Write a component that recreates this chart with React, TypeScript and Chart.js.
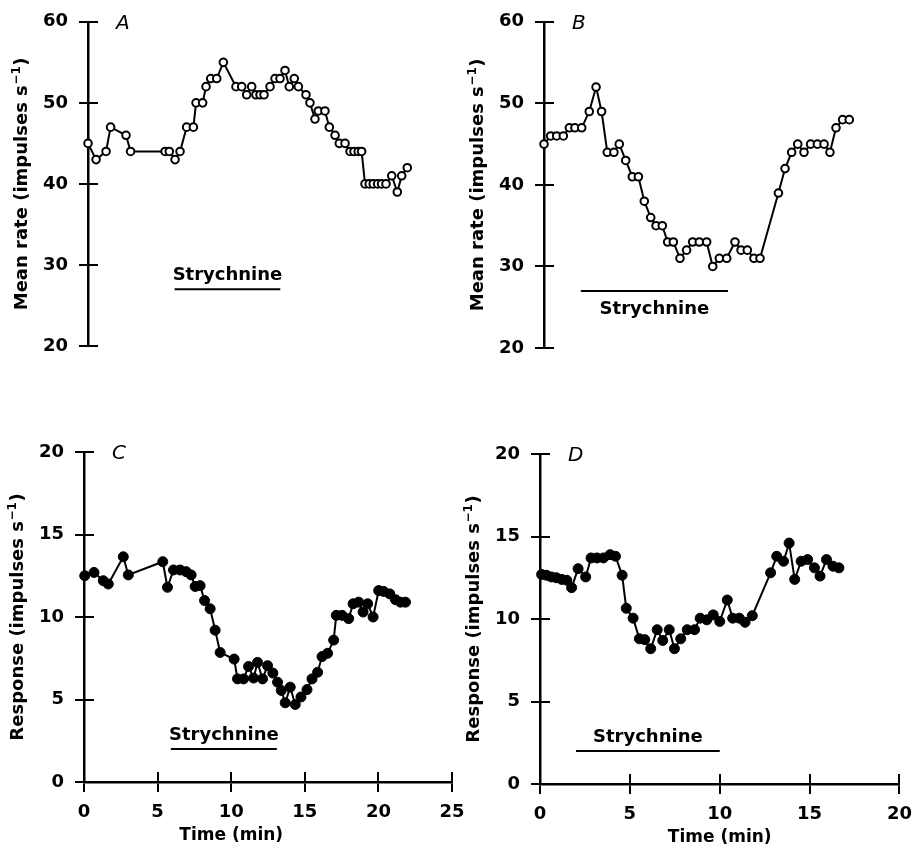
import React, { useEffect, useRef } from "react";
import { Chart, registerables } from "chart.js";

Chart.register(...registerables);
Chart.defaults.font.family = "'DejaVu Sans', sans-serif";

// ---------------- Data ----------------
// Panel A: mean rate (impulses/s) vs time (min)
const timeA = [0, 0.55, 1.23, 1.54, 2.59, 2.9, 5.25, 5.54, 5.93, 6.27, 6.72, 7.18, 7.36, 7.81, 8.04, 8.36, 8.77, 9.22, 10.08, 10.47, 10.81, 11.15, 11.44, 11.72, 11.99, 12.4, 12.74, 13.08, 13.42, 13.71, 14.05, 14.33, 14.85, 15.12, 15.46, 15.69, 16.14, 16.44, 16.83, 17.12, 17.51, 17.85, 18.12, 18.41, 18.64, 18.87, 19.16, 19.43, 19.73, 20.0, 20.3, 20.69, 21.07, 21.37, 21.75];
const rateA = [45, 43, 44, 47, 46, 44, 44, 44, 43, 44, 47, 47, 50, 50, 52, 53, 53, 55, 52, 52, 51, 52, 51, 51, 51, 52, 53, 53, 54, 52, 53, 52, 51, 50, 48, 49, 49, 47, 46, 45, 45, 44, 44, 44, 44, 40, 40, 40, 40, 40, 40, 41, 39, 41, 42];

// Panel B
const timeB = [0, 0.36, 0.69, 1.05, 1.38, 1.68, 2.05, 2.46, 2.83, 3.13, 3.44, 3.8, 4.09, 4.44, 4.8, 5.13, 5.45, 5.8, 6.09, 6.43, 6.72, 7.03, 7.39, 7.75, 8.08, 8.44, 8.84, 9.17, 9.53, 9.93, 10.38, 10.71, 11.05, 11.41, 11.74, 12.74, 13.1, 13.46, 13.79, 14.13, 14.49, 14.86, 15.22, 15.54, 15.87, 16.23, 16.59];
const rateB = [45, 46, 46, 46, 47, 47, 47, 49, 52, 49, 44, 44, 45, 43, 41, 41, 38, 36, 35, 35, 33, 33, 31, 32, 33, 33, 33, 30, 31, 31, 33, 32, 32, 31, 31, 39, 42, 44, 45, 44, 45, 45, 45, 44, 47, 48, 48];

// Panel C: response (impulses/s)
const timeC = [0.05, 0.68, 1.31, 1.65, 2.67, 3.01, 5.35, 5.67, 6.08, 6.53, 6.94, 7.28, 7.55, 7.89, 8.19, 8.57, 8.91, 9.25, 10.2, 10.43, 10.84, 11.18, 11.52, 11.79, 12.13, 12.47, 12.83, 13.15, 13.4, 13.67, 14.01, 14.35, 14.74, 15.15, 15.49, 15.87, 16.17, 16.55, 16.96, 17.14, 17.53, 17.98, 18.28, 18.66, 18.96, 19.27, 19.64, 20.02, 20.36, 20.77, 21.16, 21.5, 21.84];
const respC = [12.5, 12.7, 12.2, 12.0, 13.65, 12.55, 13.35, 11.8, 12.85, 12.85, 12.75, 12.55, 11.85, 11.9, 11.0, 10.5, 9.2, 7.85, 7.45, 6.25, 6.25, 7.0, 6.3, 7.25, 6.25, 7.05, 6.6, 6.05, 5.55, 4.8, 5.75, 4.7, 5.15, 5.6, 6.25, 6.65, 7.6, 7.8, 8.6, 10.1, 10.1, 9.9, 10.8, 10.9, 10.3, 10.8, 10.0, 11.6, 11.55, 11.4, 11.05, 10.9, 10.9];

// Panel D
const timeD = [0.09, 0.36, 0.63, 0.91, 1.21, 1.49, 1.76, 2.12, 2.54, 2.84, 3.17, 3.53, 3.9, 4.2, 4.57, 4.8, 5.18, 5.53, 5.83, 6.16, 6.52, 6.83, 7.19, 7.48, 7.83, 8.19, 8.6, 8.91, 9.28, 9.64, 10.0, 10.42, 10.72, 11.09, 11.41, 11.81, 12.83, 13.17, 13.55, 13.86, 14.17, 14.53, 14.89, 15.27, 15.58, 15.94, 16.3, 16.63];
const respD = [12.7, 12.65, 12.55, 12.5, 12.4, 12.35, 11.9, 13.05, 12.55, 13.7, 13.7, 13.7, 13.9, 13.8, 12.65, 10.65, 10.05, 8.8, 8.75, 8.2, 9.35, 8.7, 9.35, 8.2, 8.8, 9.35, 9.35, 10.05, 9.95, 10.25, 9.85, 11.15, 10.05, 10.05, 9.8, 10.2, 12.8, 13.8, 13.5, 14.6, 12.4, 13.5, 13.6, 13.1, 12.6, 13.6, 13.2, 13.1];

// Strychnine application periods [start, end] (min) and bar level
const strychA = [5.9, 13.1];
const strychB = [2.0, 10.0];
const strychC = [5.9, 13.1];
const strychD = [2.0, 10.0];
const strychLevelTop = 27;
const strychLevelBottom = 2;

const panelLetters = ["A", "B", "C", "D"];
const yTitleTop = "Mean rate (impulses s";
const yTitleBottom = "Response (impulses s";
const xTitle = "Time (min)";
const strychLabel = "Strychnine";

// ---------------- Layout (pixels) ----------------
type Layout = { left: number; right: number; top: number; bottom: number };
const layouts: Layout[] = [
  { left: 88, right: 455, top: 15, bottom: 346 },
  { left: 544, right: 912, top: 18, bottom: 348 },
  { left: 84, right: 452, top: 452, bottom: 782 },
  { left: 540, right: 908, top: 454, bottom: 784 },
];

const W = 922;
const H = 851;
const Y_SCALE_W = 80;
const X_SCALE_H = 60;

type Panel = {
  letter: string;
  xs: number[];
  ys: number[];
  open: boolean;
  xMax: number;
  yMin: number;
  yMax: number;
  yStep: number;
  showX: boolean;
  yTitle: string;
  strych: number[];
  strychLevel: number;
  labelBelow: boolean;
};

const panels: Panel[] = [
  { letter: panelLetters[0], xs: timeA, ys: rateA, open: true, xMax: 25, yMin: 20, yMax: 60, yStep: 10, showX: false, yTitle: yTitleTop, strych: strychA, strychLevel: strychLevelTop, labelBelow: false },
  { letter: panelLetters[1], xs: timeB, ys: rateB, open: true, xMax: 20, yMin: 20, yMax: 60, yStep: 10, showX: false, yTitle: yTitleTop, strych: strychB, strychLevel: strychLevelTop, labelBelow: true },
  { letter: panelLetters[2], xs: timeC, ys: respC, open: false, xMax: 25, yMin: 0, yMax: 20, yStep: 5, showX: true, yTitle: yTitleBottom, strych: strychC, strychLevel: strychLevelBottom, labelBelow: false },
  { letter: panelLetters[3], xs: timeD, ys: respD, open: false, xMax: 20, yMin: 0, yMax: 20, yStep: 5, showX: true, yTitle: yTitleBottom, strych: strychD, strychLevel: strychLevelBottom, labelBelow: false },
];

const FONT = "'DejaVu Sans', sans-serif";

const overlayPlugin = {
  id: "overlay",
  afterDraw(chart: any, _args: any, opts: any) {
    const p: Panel = opts.panel;
    const ctx: CanvasRenderingContext2D = chart.ctx;
    const { left, bottom } = chart.chartArea;
    const xs = chart.scales.x;
    const ys = chart.scales.y;
    ctx.save();
    ctx.strokeStyle = "#000";
    ctx.fillStyle = "#000";
    ctx.lineWidth = 2;
    // inner halves of tick marks
    ctx.beginPath();
    ys.ticks.forEach((t: any) => {
      const py = Math.round(ys.getPixelForValue(t.value));
      ctx.moveTo(left, py);
      ctx.lineTo(left + 10, py);
    });
    if (p.showX) {
      xs.ticks.forEach((t: any) => {
        const px = Math.round(xs.getPixelForValue(t.value));
        ctx.moveTo(px, bottom);
        ctx.lineTo(px, bottom - 10);
      });
    }
    ctx.stroke();

    // panel letter
    ctx.font = `italic 20px ${FONT}`;
    ctx.textAlign = "left";
    ctx.textBaseline = "alphabetic";
    ctx.fillText(p.letter, left + 28, ys.getPixelForValue(p.yMax) + 7);

    // Strychnine label
    const sx0 = xs.getPixelForValue(p.strych[0]);
    const sx1 = xs.getPixelForValue(p.strych[1]);
    const sy = ys.getPixelForValue(p.strychLevel);
    ctx.font = `bold 18px ${FONT}`;
    ctx.textAlign = "center";
    ctx.fillText(strychLabel, (sx0 + sx1) / 2, p.labelBelow ? sy + 23 : sy - 9);

    // x title
    if (p.showX) {
      ctx.font = `bold 17px ${FONT}`;
      ctx.textAlign = "center";
      ctx.fillText(xTitle, xs.getPixelForValue(10), bottom + 58);
    }

    // y title (rotated, with superscript)
    const cy = (ys.getPixelForValue(p.yMin) + ys.getPixelForValue(p.yMax)) / 2;
    const cx = left - 67;
    const size = 18;
    const supSize = Math.round(size * 0.65);
    ctx.translate(cx, cy);
    ctx.rotate(-Math.PI / 2);
    ctx.textAlign = "left";
    ctx.font = `bold ${size}px ${FONT}`;
    const w1 = ctx.measureText(p.yTitle).width;
    const w3 = ctx.measureText(")").width;
    ctx.font = `bold ${supSize}px ${FONT}`;
    const sup = "\u22121";
    const w2 = ctx.measureText(sup).width;
    const total = w1 + w2 + w3 + 1;
    const x0 = -total / 2;
    const base = size * 0.36;
    ctx.font = `bold ${size}px ${FONT}`;
    ctx.fillText(p.yTitle, x0, base);
    ctx.font = `bold ${supSize}px ${FONT}`;
    ctx.fillText(sup, x0 + w1 + 0.5, base - size * 0.42);
    ctx.font = `bold ${size}px ${FONT}`;
    ctx.fillText(")", x0 + w1 + w2 + 1, base);
    ctx.restore();
  },
};

function makeConfig(p: Panel, L: Layout): any {
  const padLeft = L.left - Y_SCALE_W;
  const padRight = W - L.right;
  const padTop = L.top;
  const padBottom = p.showX ? H - L.bottom - X_SCALE_H : H - L.bottom;
  return {
    type: "line",
    data: {
      datasets: [
        {
          data: p.xs.map((x, i) => ({ x, y: p.ys[i] })),
          borderColor: "#000",
          borderWidth: 2,
          pointRadius: p.open ? 3.8 : 5,
          pointBackgroundColor: p.open ? "#fff" : "#000",
          pointBorderColor: "#000",
          pointBorderWidth: p.open ? 2 : 1,
          tension: 0,
          clip: false,
        },
        {
          data: [
            { x: p.strych[0], y: p.strychLevel },
            { x: p.strych[1], y: p.strychLevel },
          ],
          borderColor: "#000",
          borderWidth: 2,
          pointRadius: 0,
          clip: false,
        },
      ],
    },
    options: {
      responsive: false,
      animation: false,
      events: [],
      layout: { padding: { left: padLeft, right: padRight, top: padTop, bottom: padBottom } },
      plugins: {
        legend: { display: false },
        tooltip: { enabled: false },
        overlay: { panel: p },
      },
      scales: {
        x: {
          type: "linear",
          min: 0,
          max: p.xMax,
          display: p.showX,
          ticks: { stepSize: 5, color: "#000", font: { size: 18, weight: "bold", family: FONT }, padding: 10, maxRotation: 0 },
          grid: { drawOnChartArea: false, drawTicks: true, tickLength: 10, color: "#000", lineWidth: 2 },
          border: { display: true, color: "#000", width: 2.5 },
          afterFit: (s: any) => {
            if (p.showX) s.height = X_SCALE_H;
          },
        },
        y: {
          type: "linear",
          min: p.yMin,
          max: p.yMax,
          ticks: { stepSize: p.yStep, color: "#000", font: { size: 18, weight: "bold", family: FONT }, padding: 11 },
          grid: { drawOnChartArea: false, drawTicks: true, tickLength: 9, color: "#000", lineWidth: 2 },
          border: { display: true, color: "#000", width: 2.5 },
          afterFit: (s: any) => {
            s.width = Y_SCALE_W;
          },
        },
      },
    },
    plugins: [overlayPlugin],
  };
}

export default function App() {
  const r0 = useRef<HTMLCanvasElement>(null);
  const r1 = useRef<HTMLCanvasElement>(null);
  const r2 = useRef<HTMLCanvasElement>(null);
  const r3 = useRef<HTMLCanvasElement>(null);
  const refs = [r0, r1, r2, r3];

  useEffect(() => {
    const charts = panels.map((p, i) => new Chart(refs[i].current as HTMLCanvasElement, makeConfig(p, layouts[i])));
    return () => charts.forEach((c) => c.destroy());
  }, []);

  return (
    <div style={{ position: "fixed", left: 0, top: 0, width: W, height: H, background: "#fff" }}>
      {refs.map((r, i) => (
        <canvas key={i} ref={r} width={W} height={H} style={{ position: "absolute", left: 0, top: 0 }} />
      ))}
    </div>
  );
}
